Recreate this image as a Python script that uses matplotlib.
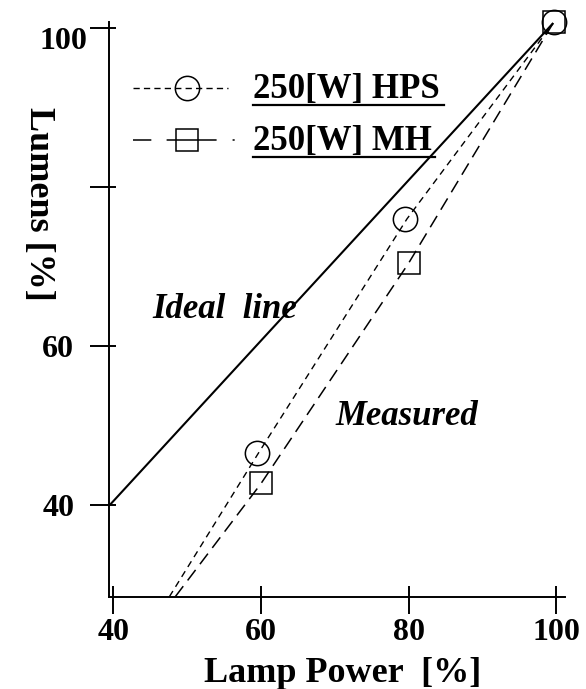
import matplotlib
matplotlib.use('Agg')
import matplotlib.pyplot as plt
import matplotlib.transforms as mtransforms

plt.rcParams['font.family'] = ['Liberation Serif', 'DejaVu Serif']
plt.rcParams['font.weight'] = 'bold'
plt.rcParams['axes.labelweight'] = 'bold'
plt.rcParams['lines.scale_dashes'] = False

# axis ticks
power_ticks = [40, 60, 80, 100]
power_labels = ['40', '60', '80', '100']
lumen_ticks = [40, 60, 80, 100]
lumen_labels = ['40', '60', '', '100']

# ideal line (lumens proportional to power)
ideal_x = [39.5, 99.6]
ideal_y = [40.0, 100.6]

# measured points
hps_power = [59.5, 79.5, 99.7]
hps_lumens = [46.6, 76.0, 100.7]
mh_power = [60.0, 80.0, 99.7]
mh_lumens = [42.8, 70.4, 100.7]

# measured trend lines (extended down to the x axis)
hps_line_x = [47.6, 59.7, 79.8, 99.6]
hps_line_y = [28.5, 46.6, 76.0, 100.6]
mh_line_x = [48.4, 60.0, 80.0, 99.6]
mh_line_y = [28.5, 42.7, 70.4, 100.6]

HPS_DASH = (0, (4.8, 3.6))
MH_DASH = (0, (9.5, 5.2))

fig = plt.figure(figsize=(5.86, 6.89), dpi=100)
ax = fig.add_axes([109.3 / 586, 92.3 / 689, 455.7 / 586, 575 / 689])

ax.plot(ideal_x, ideal_y, color='black', lw=1.5, solid_capstyle='butt')
ax.plot(hps_line_x, hps_line_y, color='black', lw=1.0, linestyle=HPS_DASH)
ax.plot(mh_line_x, mh_line_y, color='black', lw=1.1, linestyle=MH_DASH)
ax.plot(hps_power, hps_lumens, linestyle='none', marker='o', ms=17.5,
        mfc='none', mec='black', mew=1.1, clip_on=False)
ax.plot(mh_power, mh_lumens, linestyle='none', marker='s', ms=16.5,
        mfc='none', mec='black', mew=1.1, clip_on=False)

ax.set_xlim(39.46, 101.2)
ax.set_ylim(28.5, 100.77)

for side in ['top', 'right']:
    ax.spines[side].set_visible(False)
for side in ['left', 'bottom']:
    ax.spines[side].set_linewidth(1.4)

ax.set_xticks(power_ticks)
ax.set_xticklabels(power_labels)
ax.set_xticks(power_ticks, minor=True)
ax.set_yticks(lumen_ticks)
ax.set_yticklabels(lumen_labels)
ax.set_yticks(lumen_ticks, minor=True)
ax.xaxis.remove_overlapping_locs = False
ax.yaxis.remove_overlapping_locs = False

ax.tick_params(axis='x', which='major', direction='out', length=12, width=1.4,
               pad=3.5, labelsize=23)
ax.tick_params(axis='x', which='minor', direction='in', length=7.7, width=1.4)
ax.tick_params(axis='y', which='major', direction='out', length=13.7, width=1.4,
               pad=11.5, labelsize=23)
ax.tick_params(axis='y', which='minor', direction='in', length=5, width=1.4)

# the "100" label sits lower and closer to the axis
top_label = ax.yaxis.get_major_ticks()[3].label1
top_label.set_transform(top_label.get_transform() +
                        mtransforms.ScaledTranslation(0.127, -0.10, fig.dpi_scale_trans))

ax.set_xlabel('Lamp Power  [%]', fontsize=26, fontweight='bold')
ax.xaxis.label.set_va('baseline')
ax.xaxis.set_label_coords(0.5124, -0.1478)
ax.set_ylabel('Lumens [%]', fontsize=26, fontweight='bold', rotation=270,
              va='center', ha='center')
ax.yaxis.set_label_coords(-0.1543, 0.683)

ax.text(0.0937, 0.4847, 'Ideal  line', transform=ax.transAxes, fontsize=25,
        style='italic', va='baseline', ha='left')
ax.text(0.4968, 0.2986, 'Measured', transform=ax.transAxes, fontsize=25,
        style='italic', va='baseline', ha='left')

# legend drawn by hand (underlined entries)
def px(x, y):
    return (x - 109.3) / 455.7, (596.7 - y) / 575

x0, y0 = px(133.3, 88.3)
x1, _ = px(228.3, 88.3)
ax.plot([x0, x1], [y0, y0], transform=ax.transAxes, color='black', lw=1.0,
        linestyle=(0, (4.5, 3.0)), clip_on=False)
cx, cy = px(186.7, 88.3)
ax.plot([cx], [cy], transform=ax.transAxes, marker='o', ms=17.5, mfc='none',
        mec='black', mew=1.1, clip_on=False)

x0, y1 = px(133.3, 140)
x1, _ = px(235, 140)
ax.plot([x0, x1], [y1, y1], transform=ax.transAxes, color='black', lw=1.1,
        linestyle=(0, (13.2, 11.0, 36.0, 11.5, 1.5, 30)), clip_on=False)
sx, sy = px(186.7, 140)
ax.plot([sx], [sy], transform=ax.transAxes, marker='s', ms=16.5, mfc='none',
        mec='black', mew=1.1, clip_on=False)

tx, ty = px(253.3, 98.3)
ax.text(tx, ty, '250[W] HPS', transform=ax.transAxes, fontsize=25,
        va='baseline', ha='left')
ux0, uy = px(253.3, 105)
ux1, _ = px(444, 105)
ax.plot([ux0, ux1], [uy, uy], transform=ax.transAxes, color='black', lw=1.6,
        clip_on=False)

tx, ty = px(253.3, 150)
ax.text(tx, ty, '250[W] MH', transform=ax.transAxes, fontsize=25,
        va='baseline', ha='left')
ux0, uy = px(252.7, 157.3)
ux1, _ = px(435, 157.3)
ax.plot([ux0, ux1], [uy, uy], transform=ax.transAxes, color='black', lw=1.6,
        clip_on=False)

fig.savefig('out.png', dpi=100)
